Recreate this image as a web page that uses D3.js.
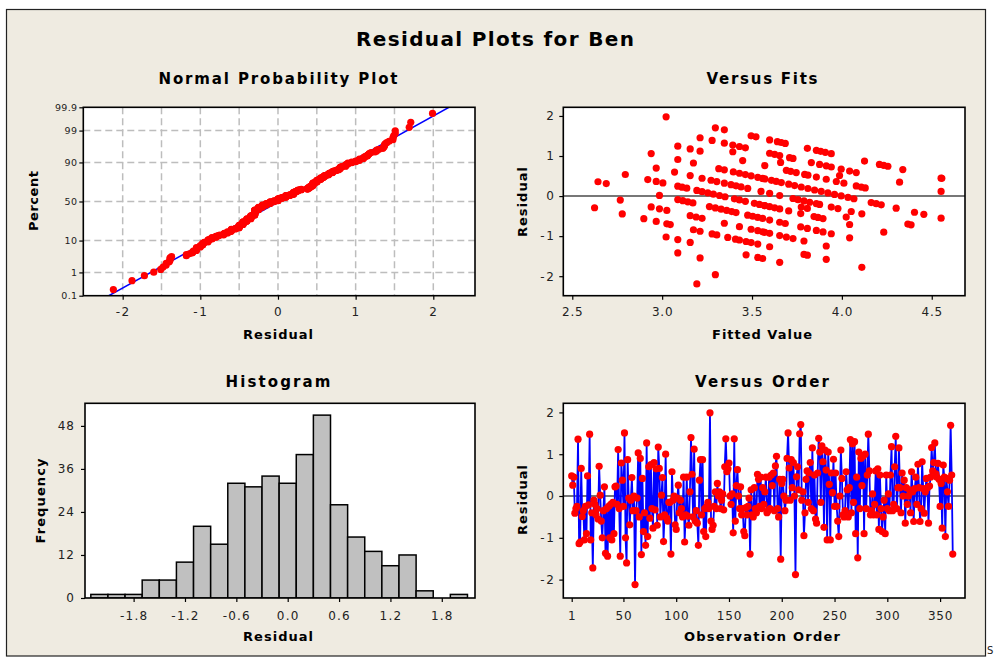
<!DOCTYPE html>
<html>
<head>
<meta charset="utf-8">
<script src="https://cdn.jsdelivr.net/npm/d3@7"></script>
<style>
  html, body { margin: 0; padding: 0; background: #ffffff; }
  svg { display: block; font-family: "DejaVu Sans", Verdana, sans-serif; }
</style>
</head>
<body>
<svg id="chart" width="994" height="657"></svg>
<script>
// ---- Data -------------------------------------------------------------

// Residuals in observation order (1..362)
const orderResiduals = [
  0.48, 0.26, 0.45, -0.41, -0.3, -0.25, 1.36, -1.14, -1.1, 0.66, -0.49, -0.35, -1.05, -0.25, -0.9, 0.48, -0.21, 1.48, -1.05, -0.4,
  -1.72, -0.1, -0.2, -0.45, -0.3, -0.55, 0.71, 0.02, -0.6, -1.0, -0.35, 0.22, -1.37, -0.3, -1.44, -0.25, -1.0, -0.2, -1.05, -0.15,
  -0.9, 0.22, 0.24, -0.2, 1.11, -0.3, -1.44, 0.79, 0.38, -0.25, 1.51, -1.0, -1.6, 0.87, -0.05, -0.69, -0.1, 0.44, -0.35, 0.0,
  -2.12, -0.35, -0.05, 1.03, -0.5, 0.9, -1.4, 0.42, -0.85, -0.4, -1.18, 1.27, -0.97, 0.7, -0.53, 0.75, -0.3, -0.77, 0.8, -0.33,
  0.65, -0.7, 1.17, 0.66, -0.5, 0.02, 0.44, -1.09, -0.45, 1.0, -0.53, -0.6, -0.15, -0.15, -1.39, 0.58, -0.1, 0.0, -0.69, -0.8,
  -0.05, 0.26, -0.4, -0.1, -0.3, -0.5, 0.45, -1.1, -0.45, 0.45, -0.48, -0.7, 0.1, 1.4, 0.52, -0.5, 1.12, -0.6, -0.35, -0.65,
  -1.18, 0.38, 0.87, -0.45, 0.87, -0.85, -0.3, -0.97, -0.25, -0.15, -0.3, 1.99, -0.6, -0.8, -0.7, -0.25, 0.1, -0.3, 0.3, 0.0,
  0.1, -0.3, -0.1, 0.05, -0.33, 0.7, 1.37, 0.58, 0.65, 0.79, 0.0, -0.2, 0.05, -0.88, 1.37, -0.6, 0.25, 0.63, 0.0, -0.3,
  0.22, -0.45, -0.3, -0.85, -0.95, -0.28, -0.45, -0.25, -0.05, -1.39, 0.15, -0.45, -0.5, 0.2, -0.3, -0.4, 0.52, 0.4, -0.25, 0.45,
  -0.3, 0.2, -0.2, 0.1, 0.45, -0.4, -0.35, 0.45, -0.3, 0.5, 0.25, 0.55, -0.35, 0.72, 0.95, -0.3, -0.5, 0.4, -1.51, 0.3,
  0.4, 0.0, -0.35, -0.1, 0.9, 1.51, 0.67, -0.1, 0.87, 0.2, 0.8, 0.0, -1.88, 0.46, 0.7, 0.15, 1.49, 1.71, -0.1, 0.1,
  -0.95, -0.4, 0.4, 0.6, -0.15, 0.55, 0.8, -0.3, 1.15, -0.35, 0.5, -0.55, -0.65, 0.55, 1.38, 1.05, -0.15, 1.2, 0.82, -0.75,
  1.1, 0.62, -1.05, 1.05, 0.28, -1.05, 0.55, 0.08, 0.88, -0.25, 0.55, -0.25, -0.6, -0.97, 0.0, 1.1, 0.42, -0.45, -0.5, -0.35,
  0.58, 0.15, -0.5, 0.2, 1.35, -0.4, 1.25, -0.15, 1.3, -0.9, 0.45, -1.48, 1.05, -0.3, 0.9, 0.25, 0.95, -0.9, 1.0, -0.3,
  0.5, 1.48, 0.6, -0.45, -0.35, 0.05, -0.45, -0.2, 0.6, -0.45, 0.65, -0.8, 0.5, -0.3, -0.85, -0.5, -0.1, -0.9, 0.5, -0.3,
  0.05, -0.35, 0.5, 1.18, -0.35, -0.2, 0.7, 1.43, -0.3, 0.2, 1.15, 0.2, -0.4, 0.55, 0.0,
  0.38, -0.65, 0.2, -0.2, 0.0, 0.15, -0.4, 0.58, 0.1, -0.61, 0.18, 0.45, -0.2, 0.76, 0.2, -0.61, -0.3, 0.82, 0.18, -0.41,
  0.1, 0.42, 0.2, -0.65, 0.24, 0.45, 1.16, 0.6, 0.8, 1.27, 0.53, 0.45, 0.78, 0.4, -0.25, 0.3, -0.77, 0.74, 0.45, -0.97,
  0.42, 0.1, -0.25, 0.38, 1.69, 0.5, -1.39
];

// Observed Ben scores and the fitted values recorded at each score
const scoreLevels = [5, 4.667, 4.5, 4.333, 4, 3.667, 3.5, 3.333, 3, 2.667, 2.333, 2, 1.667, 1.333, 1];
const fittedByScore = [
  [3.022, 3.296, 3.346, 3.495, 3.522, 3.598, 3.641, 3.663, 3.685, 3.808, 3.858, 3.882, 3.908, 3.941, 4.126, 4.209, 4.233, 4.256, 4.339, 4.552, 4.556],
  [3.211, 3.278, 3.346, 3.393, 3.430, 3.463, 3.598, 3.626, 3.654, 3.709, 3.728, 3.830, 3.876, 3.913, 3.941, 3.996, 4.043, 4.080, 4.321, 4.552],
  [3.393, 3.659, 3.987],
  [3.087, 3.156, 3.211, 3.448, 3.571, 3.691, 3.715, 3.746, 3.793, 3.811, 3.858, 3.913, 3.969, 4.011, 4.080, 4.108, 4.130],
  [2.939, 3.087, 3.174, 3.315, 3.346, 3.396, 3.430, 3.463, 3.495, 3.532, 3.559, 3.571, 3.608, 3.635, 3.663, 3.704, 3.737, 3.774, 3.811, 3.848, 3.885, 3.922, 3.959, 3.996, 4.034, 4.067, 4.163, 4.191, 4.219, 4.302, 4.404, 4.456, 4.552],
  [2.967, 3.069, 3.156, 3.222, 3.272, 3.304, 3.346, 3.383, 3.411, 3.439, 3.476, 3.550, 3.598, 3.654, 3.728, 3.756, 3.789, 3.821, 3.858, 3.876, 3.941, 3.978, 4.052, 4.111, 4.367, 4.385],
  [3.774, 3.808, 4.024],
  [2.795, 2.920, 2.967, 3.004, 3.087, 3.111, 3.137, 3.193, 3.222, 3.254, 3.285, 3.319, 3.350, 3.402, 3.430, 3.463, 3.513, 3.541, 3.569, 3.571, 3.598, 3.626, 3.654, 3.704, 3.771, 3.845, 3.867, 3.895, 4.043, 4.233],
  [2.643, 2.689, 2.985, 3.087, 3.115, 3.143, 3.171, 3.263, 3.296, 3.328, 3.359, 3.387, 3.411, 3.476, 3.504, 3.532, 3.559, 3.598, 3.654, 3.685, 3.771, 3.808, 3.858, 3.895, 3.941, 4.043],
  [2.767, 2.939, 2.985, 3.026, 3.156, 3.189, 3.222, 3.346, 3.430, 3.495, 3.532, 3.559, 3.571, 3.598, 3.654, 3.691, 3.728, 3.789, 3.913],
  [2.624, 2.778, 2.898, 2.967, 3.026, 3.045, 3.174, 3.211, 3.278, 3.304, 3.365, 3.408, 3.430, 3.467, 3.495, 3.532, 3.598, 3.789, 3.808, 3.913, 4.111],
  [3.022, 3.087, 3.156, 3.467, 3.532, 3.559, 3.654],
  [3.087, 3.211],
  [3.296],
  [3.193]
];

// Histogram of residuals: bin centres (width 0.2) and counts
const histBinCenters = [-2.2, -2.0, -1.8, -1.6, -1.4, -1.2, -1.0, -0.8, -0.6, -0.4, -0.2, 0.0, 0.2, 0.4, 0.6, 0.8, 1.0, 1.2, 1.4, 1.6, 1.8, 2.0];
const histCounts     = [1, 1, 1, 5, 5, 10, 20, 15, 32, 31, 34, 32, 40, 51, 26, 17, 13, 9, 12, 2, 0, 1];

// Tick values
const percentTicks  = [0.1, 1, 10, 50, 90, 99, 99.9];
const percentGrid   = [1, 10, 50, 90, 99];
const npResidTicks  = [-2, -1, 0, 1, 2];
const npResidGrid   = [-2, -1.5, -1, -0.5, 0, 0.5, 1, 1.5, 2];
const fitTicks      = [2.5, 3.0, 3.5, 4.0, 4.5];
const residTicks    = [-2, -1, 0, 1, 2];
const histTicks     = [-1.8, -1.2, -0.6, 0.0, 0.6, 1.2, 1.8];
const freqTicks     = [0, 12, 24, 36, 48];
const orderTicks    = [1, 50, 100, 150, 200, 250, 300, 350];

// ---- Helpers ----------------------------------------------------------

// Inverse of the standard normal CDF (Acklam's rational approximation)
function qnorm(p) {
  const a = [-3.969683028665376e+01, 2.209460984245205e+02, -2.759285104469687e+02, 1.383577518672690e+02, -3.066479806614716e+01, 2.506628277459239e+00];
  const b = [-5.447609879822406e+01, 1.615858368580409e+02, -1.556989798598866e+02, 6.680131188771972e+01, -1.328068155288572e+01];
  const c = [-7.784894002430293e-03, -3.223964580411365e-01, -2.400758277161838e+00, -2.549732539343734e+00, 4.374664141464968e+00, 2.938163982698783e+00];
  const d = [7.784695709041462e-03, 3.224671290700398e-01, 2.445134137142996e+00, 3.754408661907416e+00];
  const pl = 0.02425, ph = 1 - pl;
  let q, r;
  if (p < pl) {
    q = Math.sqrt(-2 * Math.log(p));
    return (((((c[0]*q+c[1])*q+c[2])*q+c[3])*q+c[4])*q+c[5]) / ((((d[0]*q+d[1])*q+d[2])*q+d[3])*q+1);
  }
  if (p <= ph) {
    q = p - 0.5; r = q * q;
    return (((((a[0]*r+a[1])*r+a[2])*r+a[3])*r+a[4])*r+a[5])*q / (((((b[0]*r+b[1])*r+b[2])*r+b[3])*r+b[4])*r+1);
  }
  q = Math.sqrt(-2 * Math.log(1 - p));
  return -(((((c[0]*q+c[1])*q+c[2])*q+c[3])*q+c[4])*q+c[5]) / ((((d[0]*q+d[1])*q+d[2])*q+d[3])*q+1);
}

const sign = v => (v < 0 ? "-" : "");
const fmtInt = v => sign(v) + Math.abs(v);
const fmt1 = v => sign(v) + Math.abs(v).toFixed(1);

const svg = d3.select("#chart");
const defs = svg.append("defs");

function label(g, s, x, y, o) {
  const t = g.append("text")
    .attr("x", x).attr("y", y)
    .attr("font-size", o.size)
    .attr("font-weight", o.bold ? "bold" : "normal")
    .attr("text-anchor", "middle")
    .attr("fill", "#000")
    .text(s);
  if (o.width) t.attr("textLength", o.width).attr("lengthAdjust", "spacing");
  if (o.rotate) t.attr("transform", `rotate(-90,${x},${y})`);
  return t;
}

// Plot area with white background, a clip path and a frame drawn last
function panel(id, x0, y0, x1, y1) {
  const g = svg.append("g");
  g.append("rect").attr("x", x0).attr("y", y0).attr("width", x1 - x0).attr("height", y1 - y0).attr("fill", "#fff");
  defs.append("clipPath").attr("id", id).append("rect")
    .attr("x", x0).attr("y", y0).attr("width", x1 - x0).attr("height", y1 - y0);
  const inner = g.append("g").attr("clip-path", `url(#${id})`);
  return { g, inner, box: () => g.append("rect").attr("x", x0).attr("y", y0).attr("width", x1 - x0).attr("height", y1 - y0)
    .attr("fill", "none").attr("stroke", "#000").attr("stroke-width", 1.6) };
}

function styleAxis(sel, size, spacing) {
  sel.select(".domain").remove();
  sel.selectAll(".tick line").attr("stroke", "#000").attr("stroke-width", 1.2);
  sel.selectAll(".tick text").attr("font-size", size).attr("fill", "#222")
    .attr("font-family", "'DejaVu Sans', Verdana, sans-serif")
    .attr("letter-spacing", spacing);
}

// ---- Figure frame and title -------------------------------------------
svg.append("rect").attr("x", 6.5).attr("y", 9.5).attr("width", 979).attr("height", 646.5)
  .attr("fill", "#EFEBE1").attr("stroke", "#222").attr("stroke-width", 1.2);
svg.append("text").attr("x", 987).attr("y", 654).attr("font-size", 10).attr("fill", "#222").text("S");

label(svg, "Residual Plots for Ben", 495, 46, { size: 20, bold: true, width: 278 });

// ---- Normal Probability Plot ------------------------------------------
{
  const X0 = 83.3, X1 = 475, Y0 = 107.3, Y1 = 295.7;
  const x = d3.scaleLinear().domain([-2.507, 2.537]).range([X0, X1]);
  const zTop = qnorm(0.999);
  const y = d3.scaleLinear().domain([-zTop, zTop]).range([Y1, Y0]);
  const p = panel("clipNP", X0, Y0, X1, Y1);

  p.inner.selectAll("line.vg").data(npResidGrid).join("line")
    .attr("x1", d => x(d)).attr("x2", d => x(d)).attr("y1", Y0).attr("y2", Y1)
    .attr("stroke", "#BDBDBD").attr("stroke-width", 1.5).attr("stroke-dasharray", "7,4");
  p.inner.selectAll("line.hg").data(percentGrid).join("line")
    .attr("x1", X0).attr("x2", X1).attr("y1", d => y(qnorm(d / 100))).attr("y2", d => y(qnorm(d / 100)))
    .attr("stroke", "#BDBDBD").attr("stroke-width", 1.5).attr("stroke-dasharray", "7,4");

  const sorted = orderResiduals.slice().sort((a, b) => a - b);
  const n = sorted.length;
  const mean = d3.mean(sorted), sd = d3.deviation(sorted);
  const pts = sorted.map((r, i) => ({ r, z: qnorm((i + 1 - 0.3) / (n + 0.4)) }));

  // Fitted normal reference line
  p.inner.append("line")
    .attr("x1", x(mean - sd * zTop)).attr("y1", y(-zTop))
    .attr("x2", x(mean + sd * zTop)).attr("y2", y(zTop))
    .attr("stroke", "#0000FF").attr("stroke-width", 1.5);

  p.inner.selectAll("circle").data(pts).join("circle")
    .attr("cx", d => x(d.r)).attr("cy", d => y(d.z)).attr("r", 3.6).attr("fill", "#FF0000");
  p.box();

  const ya = svg.append("g").attr("transform", `translate(${X0},0)`)
    .call(d3.axisLeft(y).tickValues(percentTicks.map(v => qnorm(v / 100)))
      .tickFormat((d, i) => String(percentTicks[i])).tickSize(4).tickPadding(2));
  styleAxis(ya, 9.5, 0.3);
  const xa = svg.append("g").attr("transform", `translate(0,${Y1})`)
    .call(d3.axisBottom(x).tickValues(npResidTicks).tickFormat(fmtInt).tickSize(4).tickPadding(8));
  styleAxis(xa, 12, 1.5);

  label(svg, "Normal Probability Plot", 278, 84, { size: 15, bold: true, width: 239 });
  label(svg, "Residual", 278, 339, { size: 13, bold: true, width: 70 });
  label(svg, "Percent", 38, 201, { size: 13, bold: true, width: 60, rotate: true });
}

// ---- Versus Fits ------------------------------------------------------
{
  const X0 = 563.3, X1 = 965, Y0 = 107.3, Y1 = 295.7;
  const x = d3.scaleLinear().domain([2.45, 4.685]).range([X0, X1]);
  const y = d3.scaleLinear().domain([-2.487, 2.216]).range([Y1, Y0]);
  const p = panel("clipVF", X0, Y0, X1, Y1);

  const pts = [];
  scoreLevels.forEach((s, k) => fittedByScore[k].forEach(f => pts.push({ f, r: s - f })));

  p.inner.append("line").attr("x1", X0).attr("x2", X1).attr("y1", y(0)).attr("y2", y(0))
    .attr("stroke", "#4a4a4a").attr("stroke-width", 1.6);
  p.inner.selectAll("circle").data(pts).join("circle")
    .attr("cx", d => x(d.f)).attr("cy", d => y(d.r)).attr("r", 3.6).attr("fill", "#FF0000");
  p.box();

  const ya = svg.append("g").attr("transform", `translate(${X0},0)`)
    .call(d3.axisLeft(y).tickValues(residTicks).tickFormat(fmtInt).tickSize(4).tickPadding(4));
  styleAxis(ya, 12, 1.5);
  const xa = svg.append("g").attr("transform", `translate(0,${Y1})`)
    .call(d3.axisBottom(x).tickValues(fitTicks).tickFormat(fmt1).tickSize(4).tickPadding(8));
  styleAxis(xa, 12, 0.8);

  label(svg, "Versus Fits", 762, 84, { size: 15, bold: true, width: 111 });
  label(svg, "Fitted Value", 762, 339, { size: 13, bold: true, width: 100 });
  label(svg, "Residual", 527, 202, { size: 13, bold: true, width: 70, rotate: true });
}

// ---- Histogram --------------------------------------------------------
{
  const X0 = 85, X1 = 475, Y0 = 403.3, Y1 = 598;
  const x = d3.scaleLinear().domain([-2.368, 2.188]).range([X0, X1]);
  const y = d3.scaleLinear().domain([0, 54.3]).range([Y1, Y0]);
  const p = panel("clipH", X0, Y0, X1, Y1);
  const bins = histBinCenters.map((c, i) => ({ c, n: histCounts[i] }));

  p.inner.selectAll("rect.bar").data(bins).join("rect")
    .attr("x", d => x(d.c - 0.1)).attr("width", d => x(d.c + 0.1) - x(d.c - 0.1))
    .attr("y", d => y(d.n)).attr("height", d => Y1 - y(d.n))
    .attr("fill", "#C0C0C0").attr("stroke", "#000").attr("stroke-width", 1.5);
  p.box();

  const ya = svg.append("g").attr("transform", `translate(${X0},0)`)
    .call(d3.axisLeft(y).tickValues(freqTicks).tickFormat(d => String(d)).tickSize(4).tickPadding(6));
  styleAxis(ya, 12, 1);
  const xa = svg.append("g").attr("transform", `translate(0,${Y1})`)
    .call(d3.axisBottom(x).tickValues(histTicks).tickFormat(fmt1).tickSize(4).tickPadding(9));
  styleAxis(xa, 12, 1.2);

  label(svg, "Histogram", 278, 387, { size: 15, bold: true, width: 105 });
  label(svg, "Residual", 278, 641, { size: 13, bold: true, width: 70 });
  label(svg, "Frequency", 45, 501, { size: 13, bold: true, width: 85, rotate: true });
}

// ---- Versus Order -----------------------------------------------------
{
  const X0 = 563.3, X1 = 965, Y0 = 403.3, Y1 = 598;
  const x = d3.scaleLinear().domain([-6.96, 373.6]).range([X0, X1]);
  const y = d3.scaleLinear().domain([-2.44, 2.218]).range([Y1, Y0]);
  const p = panel("clipVO", X0, Y0, X1, Y1);
  const pts = orderResiduals.map((r, i) => ({ i: i + 1, r }));

  p.inner.append("line").attr("x1", X0).attr("x2", X1).attr("y1", y(0)).attr("y2", y(0))
    .attr("stroke", "#4a4a4a").attr("stroke-width", 1.6);
  p.inner.append("path").datum(pts)
    .attr("d", d3.line().x(d => x(d.i)).y(d => y(d.r)))
    .attr("fill", "none").attr("stroke", "#0000FF").attr("stroke-width", 1.8);
  p.inner.selectAll("circle").data(pts).join("circle")
    .attr("cx", d => x(d.i)).attr("cy", d => y(d.r)).attr("r", 3.6).attr("fill", "#FF0000");
  p.box();

  const ya = svg.append("g").attr("transform", `translate(${X0},0)`)
    .call(d3.axisLeft(y).tickValues(residTicks).tickFormat(fmtInt).tickSize(4).tickPadding(4));
  styleAxis(ya, 12, 1.5);
  const xa = svg.append("g").attr("transform", `translate(0,${Y1})`)
    .call(d3.axisBottom(x).tickValues(orderTicks).tickFormat(d => String(d)).tickSize(4).tickPadding(9));
  styleAxis(xa, 12, 0.8);

  label(svg, "Versus Order", 762, 387, { size: 15, bold: true, width: 134 });
  label(svg, "Observation Order", 762, 641, { size: 13, bold: true, width: 156 });
  label(svg, "Residual", 527, 500, { size: 13, bold: true, width: 70, rotate: true });
}
</script>
</body>
</html>
